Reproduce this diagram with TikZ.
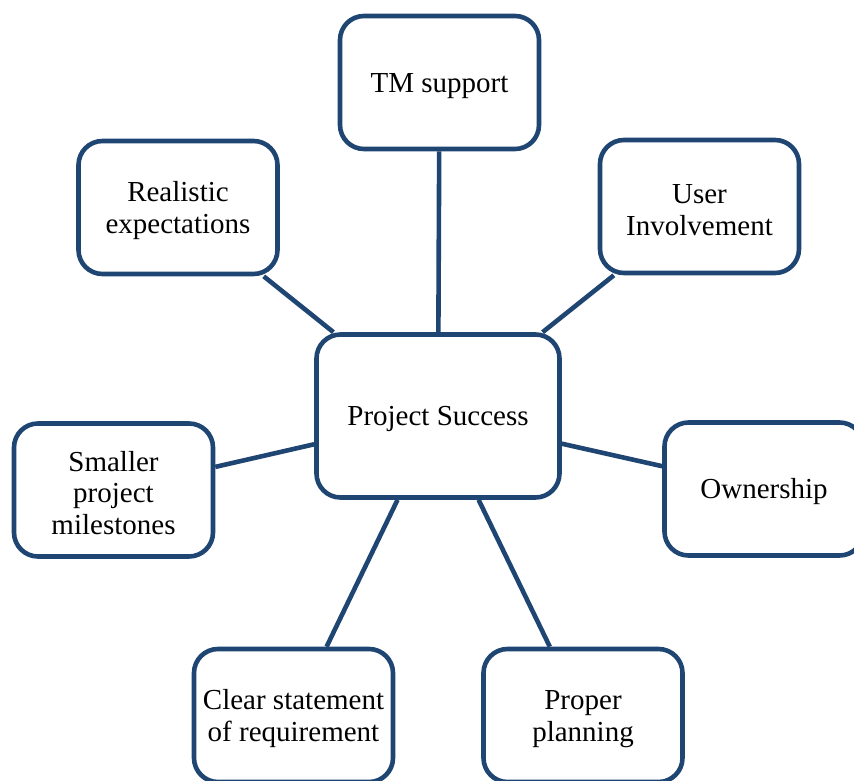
\documentclass[tikz,border=0pt]{standalone}
\usepackage{fontspec}
\setmainfont{Liberation Serif}
\definecolor{boxblue}{RGB}{31,69,115}
\newcommand{\topstrut}{\rule{0pt}{26pt}}
\begin{document}
\begin{tikzpicture}[x=1pt,y=-1pt,
  box/.style={draw=boxblue, line width=4.6pt, fill=white, rounded corners=24pt,
    minimum width=199pt, minimum height=133pt, inner sep=0pt, align=center,
    font=\fontsize{29}{31.5}\selectfont},
  link/.style={draw=boxblue, line width=4.6pt}]
\useasboundingbox (0,0) rectangle (854,781);
\node[box, minimum width=243pt, minimum height=163pt] (ps) at (438,416) {\topstrut Project Success};
\node[box] (tm) at (439.5,82.5) {\topstrut TM support};
\node[box] (re) at (178,207.5) {\topstrut Realistic\\expectations};
\node[box] (ui) at (699.5,206.5) {\topstrut User\\Involvement};
\node[box] (sm) at (113.5,490) {\topstrut Smaller\\project\\milestones};
\node[box] (ow) at (764,489) {\topstrut Ownership};
\node[box] (cs) at (293.5,715.5) {\topstrut Clear statement\\of requirement};
\node[box] (pp) at (583,715.5) {\topstrut Proper\\planning};
\draw[link] (ps) -- (tm);
\draw[link] (ps) -- (re);
\draw[link] (ps) -- (ui);
\draw[link] (ps) -- (sm);
\draw[link] (ps) -- (ow);
\draw[link] (ps) -- (cs);
\draw[link] (ps) -- (pp);
\end{tikzpicture}
\end{document}
